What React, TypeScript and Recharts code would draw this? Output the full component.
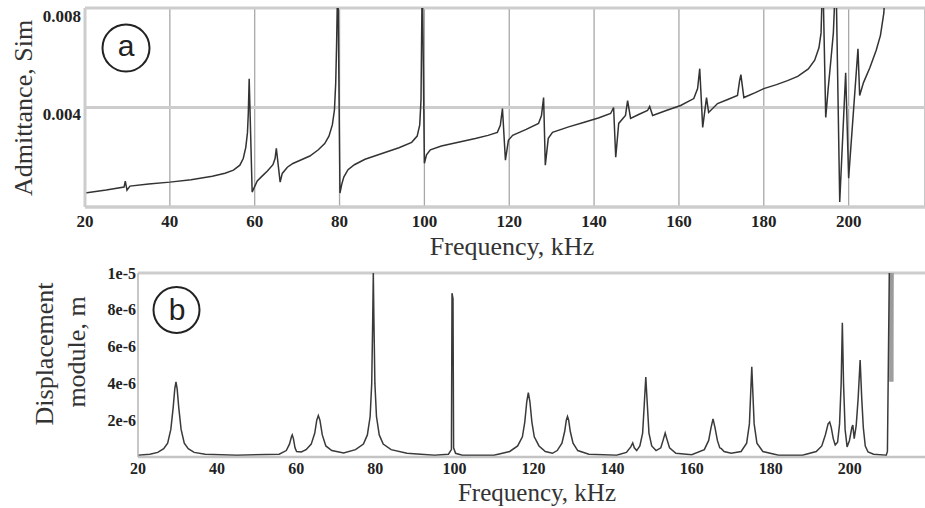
import React from "react";
import { LineChart, Line, XAxis, YAxis, CartesianGrid, ReferenceLine } from "recharts";

// frequency ticks shared by both panels (kHz)
const FREQ_TICKS = [20, 40, 60, 80, 100, 120, 140, 160, 180, 200];
const ADM_TICKS = [0.004, 0.008];
const DISP_TICKS = [2e-6, 4e-6, 6e-6, 8e-6, 1e-5];

// panel a: admittance, values in mS (values above 8 get clipped at the top)
const admFreq = [
  20, 25, 29.2, 29.5, 29.9, 30.6, 35, 40, 45, 50, 53, 55, 56.5, 57.3, 57.9, 58.3, 58.5, 58.7,
  59.4, 59.8, 60.6, 61.8, 63.0, 64.3, 64.8, 65.1, 66.0, 66.5, 67.7, 69, 71, 73, 75, 76.5, 77.5,
  78.3, 78.8, 79.1, 79.3, 79.6, 80.1, 80.5, 81.0, 82, 83.5, 86, 90, 94, 97, 98.3, 98.9, 99.2,
  99.5, 100.0, 100.5, 101.4, 104, 108, 112, 115, 117.2, 117.9, 118.4, 119.1, 119.8, 120.8,
  124, 126.9, 127.6, 128.1, 128.5, 129.2, 130.2, 134, 137.5, 141, 143.9, 144.6, 145.1, 145.8,
  147.4, 147.9, 148.6, 150.5, 152.6, 153.1, 153.8, 157, 160.4, 163.5, 164.4, 164.9, 165.6,
  166.5, 167.0, 169.1, 171.5, 173.8, 174.3, 174.6, 175.3, 178, 180.0, 183, 185.6, 188, 190.5,
  192, 193, 193.5, 193.9, 194.6, 195.2, 195.8, 196.4, 197.0, 197.9, 199.3, 200.0, 202.2,
  202.6, 203.5, 205, 206.5, 207.5, 208.3, 208.8,
];
const admMs = [
  0.56, 0.68, 0.8, 1.04, 0.68, 0.84, 0.92, 1.0, 1.1, 1.24, 1.36, 1.48, 1.68, 1.95, 2.4, 3.0, 3.8, 5.16,
  0.6, 0.75, 1.05, 1.25, 1.45, 1.7, 1.95, 2.36, 1.0, 1.35, 1.6, 1.75, 1.9, 2.05, 2.3, 2.55, 2.85,
  3.3, 3.9, 5.0, 6.5, 9.5, 0.56, 0.9, 1.2, 1.5, 1.7, 1.92, 2.15, 2.38, 2.6, 2.85, 3.3, 4.3,
  9.5, 1.76, 2.1, 2.3, 2.45, 2.6, 2.75, 2.88, 3.0, 3.28, 3.96, 1.88, 2.68, 2.88,
  3.12, 3.36, 3.68, 4.4, 1.68, 2.76, 3.0, 3.22, 3.4, 3.58, 3.76, 4.0, 2.0, 3.36,
  3.68, 4.28, 3.56, 3.72, 3.88, 4.04, 3.68, 3.88, 4.08, 4.36, 4.76, 5.56, 3.2,
  4.4, 3.8, 4.16, 4.32, 4.48, 5.08, 5.32, 4.4, 4.6, 4.76, 4.92, 5.08, 5.25, 5.55,
  5.9, 6.4, 7.0, 9.5, 3.6, 4.8, 5.88, 7.0, 9.5, 0.2, 5.4, 1.16, 6.36,
  4.48, 5.0, 5.6, 6.3, 6.9, 7.8, 9.5,
];

// panel b: displacement module, values in micrometres
const dispFreq = [
  20, 23, 25, 26.5, 27.5, 28.3, 28.9, 29.3, 29.6, 29.9, 30.3, 30.9, 31.7, 32.7, 34.2, 37, 45,
  55.7, 57.5, 58.3, 58.8, 59.0, 59.3, 59.7, 60.1, 61.3, 62.5, 63.8, 64.7, 65.2, 65.6, 66.0,
  66.6, 67.5, 69, 72, 75, 77, 78, 78.7, 79.1, 79.35, 79.5, 79.65, 79.9, 80.3, 81, 82, 84, 88,
  95, 98.5, 99.25, 99.4, 99.65, 99.8, 100.3, 102, 110, 114, 116, 117.2, 117.8, 118.3, 118.7,
  119.1, 119.6, 120.2, 121.4, 123.0, 124.8, 126.0, 127.2, 127.9, 128.3, 128.6, 128.9, 129.3,
  130.0, 131.2, 134, 141, 143.5, 144.6, 145.1, 145.5, 146.1, 146.9, 147.6, 148.0, 148.4,
  148.8, 149.2, 149.9, 151, 152.2, 152.9, 153.3, 153.7, 154.4, 156, 160, 163.2, 164.3, 164.9,
  165.4, 165.9, 166.5, 167.1, 167.5, 168.2, 170, 172.5, 173.9, 174.6, 174.95, 175.2, 175.45,
  175.8, 176.5, 178, 182, 188, 191.5, 192.9, 193.8, 194.5, 194.9, 195.3, 195.8, 196.3, 196.9,
  197.4, 197.8, 198.1, 198.4, 198.8, 199.3, 199.9, 200.5, 200.75, 201.1, 201.6, 202.1, 202.6,
  203.0, 203.4, 203.9, 204.6, 206, 209.2, 209.5, 210.0,
];
const dispUm = [
  0.1, 0.15, 0.25, 0.45, 0.75, 1.5, 2.7, 3.7, 4.08, 3.7, 2.7, 1.5, 0.75, 0.45, 0.25, 0.15, 0.1,
  0.15, 0.35, 0.7, 1.1, 1.2, 1.0, 0.5, 0.3, 0.27, 0.4, 0.7, 1.3, 2.0, 2.25, 2.0,
  1.2, 0.6, 0.35, 0.22, 0.4, 0.7, 1.2, 2.2, 4.0, 7.5, 10, 7.5, 4.0, 2.2, 1.2, 0.7, 0.4, 0.2,
  0.1, 0.15, 0.4, 8.9, 8.6, 0.5, 0.2, 0.1, 0.1, 0.3, 0.6, 1.1, 1.9, 3.0, 3.5,
  3.0, 1.9, 1.1, 0.6, 0.3, 0.2, 0.35, 0.75, 1.4, 2.0, 2.2, 2.0, 1.4,
  0.75, 0.35, 0.15, 0.1, 0.25, 0.55, 0.76, 0.5, 0.35, 0.6, 1.3, 2.8, 4.35,
  2.8, 1.3, 0.6, 0.35, 0.5, 1.0, 1.3, 1.0, 0.5, 0.2, 0.12, 0.4, 0.9, 1.6,
  2.07, 1.6, 0.9, 0.5, 0.45, 0.3, 0.2, 0.3, 0.75, 1.8, 3.6, 4.9, 3.6,
  1.8, 0.75, 0.3, 0.1, 0.1, 0.3, 0.6, 1.2, 1.8, 1.9, 1.6, 1.0, 0.65, 0.8,
  1.8, 4.0, 7.3, 4.0, 1.5, 0.55, 0.9, 1.6, 1.74, 1.0, 1.7, 3.2, 5.27,
  3.2, 1.6, 0.6, 0.27, 0.15, 0.1, 0.3, 10.5,
];

// dense oscillation at the right end of panel b (drawn grey)
const burstFreq = [210.0, 210.12, 210.25, 210.37, 210.5, 210.62, 210.75, 210.87, 211.0];
const burstUm = [10.5, 4.1, 10.5, 4.1, 10.5, 4.1, 10.5, 4.1, 10.5];

const admData = admFreq.map((f, i) => ({ f, v: admMs[i] / 1000 }));
const dispData = dispFreq.map((f, i) => ({ f, v: dispUm[i] * 1e-6 }));
const burstData = burstFreq.map((f, i) => ({ f, v: burstUm[i] * 1e-6 }));

const SERIF = "'Liberation Serif', 'Times New Roman', serif";
const SANS = "'Liberation Sans', Arial, sans-serif";
const tickStyle = { fontFamily: SERIF, fontSize: 17, fontWeight: 700, fill: "#222" };

const AdmTick = ({ x, y, payload }: any) => (
  <text x={x} y={y + 7} textAnchor="end" dominantBaseline="central" {...tickStyle}>
    {payload.value.toFixed(3)}
  </text>
);

const dispLabel = (v: number) => (v >= 1e-5 ? "1e-5" : `${Math.round(v * 1e6)}e-6`);

export default function App() {
  return (
    <div style={{ position: "absolute", left: 0, top: 0, width: 925, height: 508, background: "#fff" }}>
      {/* panel a */}
      <div style={{ position: "absolute", left: 0, top: 0 }}>
        <LineChart width={925} height={240} data={admData} margin={{ top: 8, right: 0, bottom: 3, left: 15 }}>
          <CartesianGrid horizontal={false} stroke="#a8a8a8" strokeWidth={1.3} />
          <CartesianGrid vertical={false} stroke="#cdcdcd" strokeWidth={3} />
          <XAxis
            dataKey="f"
            type="number"
            domain={[20, 218]}
            ticks={FREQ_TICKS}
            allowDataOverflow
            height={30}
            tickSize={0}
            tickLine={false}
            tickMargin={8}
            tick={tickStyle}
            axisLine={{ stroke: "#cdcdcd", strokeWidth: 3 }}
          />
          <YAxis
            type="number"
            domain={[0, 0.008]}
            ticks={ADM_TICKS}
            allowDataOverflow
            width={70}
            tickSize={0}
            tickLine={false}
            tickMargin={4}
            tick={<AdmTick />}
            axisLine={{ stroke: "#cdcdcd", strokeWidth: 3 }}
          />
          <Line
            dataKey="v"
            type="linear"
            stroke="#333"
            strokeWidth={1.5}
            dot={false}
            isAnimationActive={false}
          />
        </LineChart>
      </div>

      {/* panel b */}
      <div style={{ position: "absolute", left: 0, top: 260 }}>
        <LineChart width={925} height={240} margin={{ top: 13, right: 0, bottom: 13, left: 68 }}>
          <XAxis
            dataKey="f"
            type="number"
            domain={[20, 219]}
            ticks={FREQ_TICKS}
            allowDataOverflow
            height={30}
            tickSize={0}
            tickLine={false}
            tickMargin={6}
            tick={{ ...tickStyle, fontSize: 16 }}
            axisLine={{ stroke: "#c4c4c4", strokeWidth: 2.5 }}
          />
          <YAxis
            type="number"
            domain={[0, 1e-5]}
            ticks={DISP_TICKS}
            allowDataOverflow
            width={70}
            tickSize={0}
            tickLine={false}
            tickMargin={2}
            tick={{ ...tickStyle, fontSize: 16 }}
            tickFormatter={dispLabel}
            axisLine={{ stroke: "#b4b4b4", strokeWidth: 1.5 }}
          />
          <ReferenceLine y={1e-5} stroke="#cdcdcd" strokeWidth={3} />
          <Line
            data={burstData}
            dataKey="v"
            type="linear"
            stroke="#9a9a9a"
            strokeWidth={1}
            dot={false}
            isAnimationActive={false}
          />
          <Line
            data={dispData}
            dataKey="v"
            type="linear"
            stroke="#3a3a3a"
            strokeWidth={1.5}
            dot={false}
            isAnimationActive={false}
          />
        </LineChart>
      </div>

      {/* titles and panel marks */}
      <svg width={925} height={508} style={{ position: "absolute", left: 0, top: 0, pointerEvents: "none" }}>
        <text x={512} y={255} textAnchor="middle" fontFamily={SERIF} fontSize={26} fill="#333">
          Frequency, kHz
        </text>
        <text x={537} y={501} textAnchor="middle" fontFamily={SERIF} fontSize={25} fill="#333">
          Frequency, kHz
        </text>
        <text x={32} y={108} textAnchor="middle" transform="rotate(-90 32 108)" fontFamily={SERIF} fontSize={26} fill="#333">
          Admittance, Sim
        </text>
        <text x={53} y={354} textAnchor="middle" transform="rotate(-90 53 354)" fontFamily={SERIF} fontSize={26} fill="#333">
          Displacement
        </text>
        <text x={85} y={352} textAnchor="middle" transform="rotate(-90 85 352)" fontFamily={SERIF} fontSize={26} fill="#333">
          module, m
        </text>
        <circle cx={126} cy={48} r={23.5} fill="none" stroke="#222" strokeWidth={2} />
        <text x={126} y={56} textAnchor="middle" fontFamily={SANS} fontSize={30} fill="#222">
          a
        </text>
        <circle cx={176.5} cy={310} r={23} fill="none" stroke="#222" strokeWidth={2} />
        <text x={177} y={320} textAnchor="middle" fontFamily={SANS} fontSize={30} fill="#222">
          b
        </text>
      </svg>
    </div>
  );
}
